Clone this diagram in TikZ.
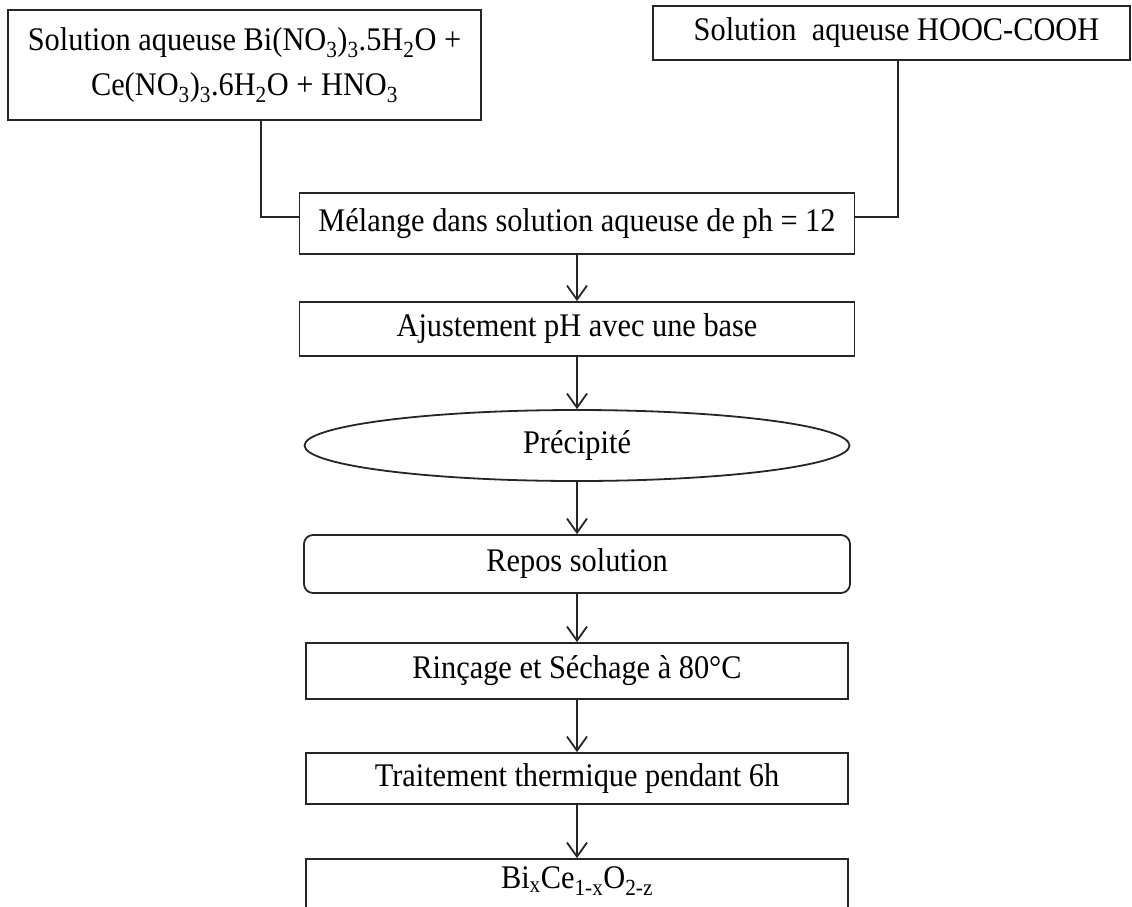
\documentclass[tikz,border=0pt]{standalone}
\usepackage{fontspec}
\setmainfont[FakeStretch=0.92]{Liberation Serif}
\usetikzlibrary{arrows.meta,shapes.geometric}
\newcommand\diagfont{\fontsize{33}{45}\selectfont}
\begin{document}
\begin{tikzpicture}[x=1pt,y=-1pt,
  box/.style={draw=black!85, line width=1.8pt, rectangle, inner sep=0pt, align=center, font=\diagfont},
  oval/.style={draw=black!85, line width=1.8pt, ellipse, inner sep=0pt, font=\diagfont},
  flow/.style={draw=black!85, line width=1.8pt, -{Straight Barb[length=14pt,width=20pt,line width=1.8pt]}},
  link/.style={draw=black!85, line width=1.8pt}]
\useasboundingbox (0,0) rectangle (1132,906);
\clip (0,0) rectangle (1132,906);
\fill[white] (0,0) rectangle (1132,906);

\node[box, minimum width=473pt, minimum height=110pt] (b1) at (244.5,65)
  {Solution aqueuse Bi(NO\textsubscript{3})\textsubscript{3}.5H\textsubscript{2}O +\\
   Ce(NO\textsubscript{3})\textsubscript{3}.6H\textsubscript{2}O + HNO\textsubscript{3}};
\node[box, minimum width=477pt, minimum height=54pt] (b2) at (891.5,33)
  {\hspace*{10pt}Solution\ \ aqueuse HOOC-COOH};

\node[box, minimum width=555pt, minimum height=61pt] (m) at (577,223.5)
  {Mélange dans solution aqueuse de ph = 12};
\node[box, minimum width=555pt, minimum height=54pt] (a) at (577,329)
  {Ajustement pH avec une base};
\node[oval, minimum width=545pt, minimum height=71pt] (p) at (577,445.5)
  {Précipité};
\node[box, rounded corners=9pt, minimum width=546pt, minimum height=58pt] (r) at (577,564)
  {Repos solution};
\node[box, minimum width=542pt, minimum height=56pt] (s) at (577,671)
  {Rinçage et Séchage à 80°C};
\node[box, minimum width=542pt, minimum height=51pt] (t) at (577,778.5)
  {Traitement thermique pendant 6h};
\node[box, minimum width=542pt, minimum height=62pt] (f) at (577,890)
  {\raisebox{9pt}[\height][\depth]{Bi\textsubscript{x}Ce\textsubscript{1-x}O\textsubscript{2-z}}};

\coordinate (j1) at (261,217);
\coordinate (j2) at (898,217);
\draw[link] (b1.south -| j1) -- (j1) -- (j1 -| m.west);
\draw[link] (b2.south -| j2) -- (j2) -- (j2 -| m.east);

\draw[flow] (m.south) -- (a.north);
\draw[flow] (a.south) -- (p.north);
\draw[flow] (p.south) -- (r.north);
\draw[flow] (r.south) -- (s.north);
\draw[flow] (s.south) -- (t.north);
\draw[flow] (t.south) -- (f.north);
\end{tikzpicture}
\end{document}
